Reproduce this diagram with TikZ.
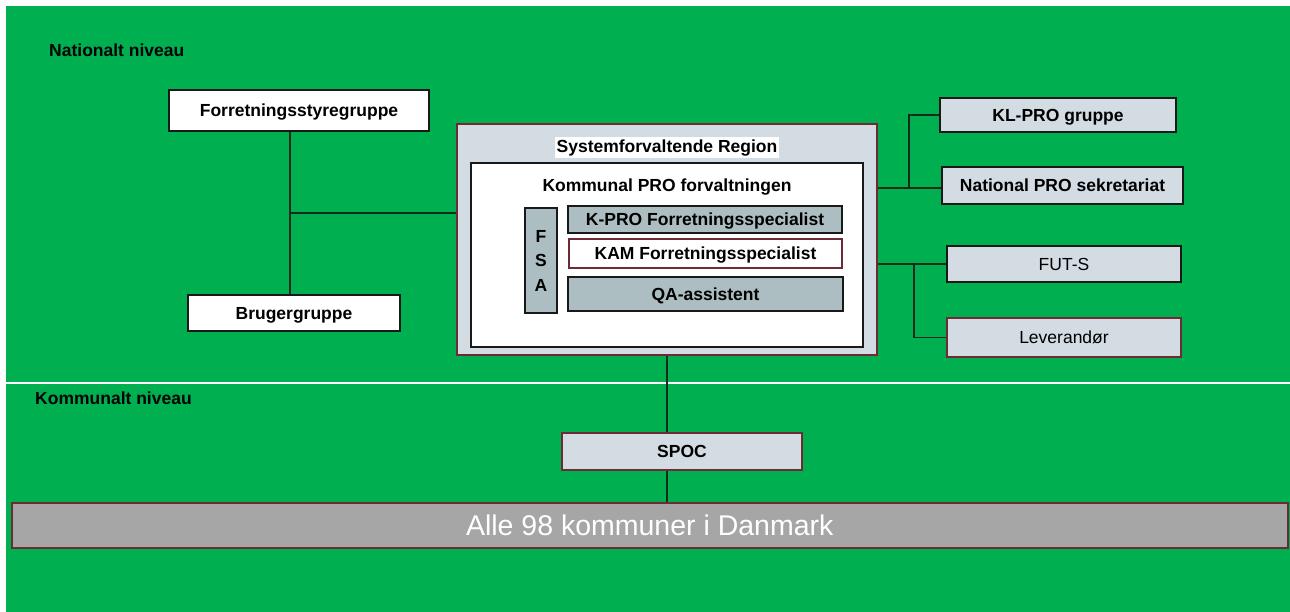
\documentclass[tikz,border=0pt]{standalone}
\usepackage{fontspec}
\setmainfont{Liberation Sans}
\definecolor{bggreen}{HTML}{00AF50}
\definecolor{lightbox}{HTML}{D2DCE2}
\definecolor{darkbox}{HTML}{ADBEC3}
\definecolor{redline}{HTML}{6E2A35}
\definecolor{connline}{HTML}{1A2A1A}
\definecolor{allefill}{HTML}{A6A6A6}
\begin{document}
\begin{tikzpicture}[x=1pt,y=-1pt,
  base/.style={rectangle, inner sep=0pt, font=\fontsize{17.5}{21}\selectfont\bfseries, text=black, text height=12.6pt, text depth=0pt},
  whitebox/.style={base, fill=white, draw=black!90, line width=1.8pt},
  lightb/.style={base, fill=lightbox, draw=black!90, line width=2pt},
  darkb/.style={base, fill=darkbox, draw=black!90, line width=2pt},
  redb/.style={base, fill=white, draw=redline, line width=1.6pt},
  conn/.style={draw=connline, line width=1.3pt},
  lbl/.style={inner sep=0pt, font=\fontsize{17.5}{20}\selectfont\bfseries, anchor=west, text height=12.6pt, text depth=0pt}
]
\useasboundingbox (0,0) rectangle (1290,612);
\fill[white] (0,0) rectangle (1290,612);
\fill[bggreen] (6,6) rectangle (1290,612);
\draw[white, line width=1.3pt] (6,383) -- (1290,383);

\node[lbl] (nat) at (49,50) {Nationalt niveau};
\node[lbl] (kom) at (35,398) {Kommunalt niveau};

% left side
\node[whitebox, minimum width=260pt, minimum height=41pt] (fsg) at (299,110.5) {Forretningsstyregruppe};
\node[whitebox, minimum width=212pt, minimum height=36pt] (brug) at (294,313) {Brugergruppe};

% region
\node[base, fill=lightbox, draw=redline, line width=2pt, minimum width=420pt, minimum height=231pt] (region) at (667,239.5) {};
\node[base, fill=white, inner sep=2pt, text depth=3.5pt] (regtitle) at (667,147.5) {Systemforvaltende Region};
\node[base, fill=white, draw=black!90, line width=2.4pt, minimum width=392pt, minimum height=184pt] (kpf) at (667,255) {};
\node[base] (kpftitle) at (667,185) {Kommunal PRO forvaltningen};
\node[darkb, minimum width=32pt, minimum height=105pt, align=center, font=\fontsize{17.5}{24.5}\selectfont\bfseries, text height=, text depth=] (fsa) at (541,260.5) {F\\S\\A};
\node[darkb, minimum width=274pt, minimum height=27pt] (kpro) at (705,219.5) {K-PRO Forretningsspecialist};
\node[redb, minimum width=273pt, minimum height=29pt] (kam) at (705.5,253.5) {KAM Forretningsspecialist};
\node[darkb, minimum width=275pt, minimum height=34pt] (qa) at (705.5,294) {QA-assistent};

% right side
\node[lightb, minimum width=236pt, minimum height=34pt] (klpro) at (1058,115) {KL-PRO gruppe};
\node[lightb, minimum width=241pt, minimum height=37pt] (nps) at (1062.5,185.5) {National PRO sekretariat};
\node[lightb, minimum width=234pt, minimum height=36pt, font=\fontsize{17.5}{21}\selectfont] (futs) at (1064,264) {FUT-S};
\node[base, fill=lightbox, draw=redline, line width=1.4pt, minimum width=234pt, minimum height=39pt, font=\fontsize{17.5}{21}\selectfont] (lev) at (1064,337.5) {Leverandør};

% bottom
\node[base, fill=lightbox, draw=redline, line width=1.3pt, minimum width=240pt, minimum height=37pt] (spoc) at (682,451.5) {SPOC};
\node[base, fill=allefill, draw=redline, line width=2.2pt, minimum width=1276pt, minimum height=45pt, text=white, font=\fontsize{28.5}{33}\selectfont, text height=20.5pt] (alle) at (649.75,525.5) {Alle 98 kommuner i Danmark};

% connectors
\coordinate (j1) at (290,213);
\draw[conn] (j1 |- fsg.south) -- (j1 |- brug.north);
\draw[conn] (j1) -- (j1 -| region.west);

\coordinate (b1) at (909,188);
\draw[conn] (region.east |- b1) -- (nps.west |- b1);
\draw[conn] (b1) |- (klpro.west);
\coordinate (b2) at (914,264);
\draw[conn] (region.east |- b2) -- (futs.west);
\draw[conn] (b2) |- (lev.west);

\draw[conn] (region.south) -- (region.south |- spoc.north);
\draw[conn] (region.south |- spoc.south) -- (region.south |- alle.north);
\end{tikzpicture}
\end{document}
